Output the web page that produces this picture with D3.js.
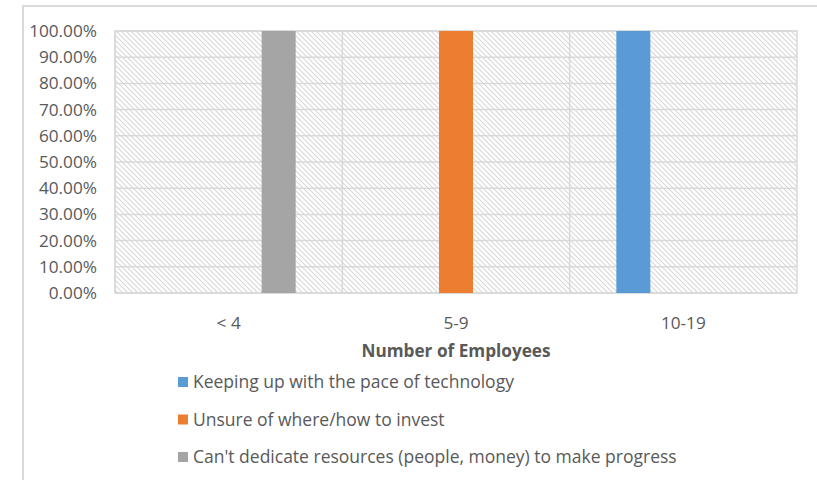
<!DOCTYPE html>
<html><head><meta charset="utf-8">
<script src="https://cdn.jsdelivr.net/npm/d3@7"></script>
<style>body{margin:0;background:#fff;} text{font-family:"Open Sans",sans-serif;}</style>
</head><body>
<svg id="c" width="817" height="480"></svg>
<script>
const categories = ["< 4", "5-9", "10-19"];
const seriesNames = ["Keeping up with the pace of technology", "Unsure of where/how to invest", "Can't dedicate resources (people, money) to make progress"];
const keepingUp = [0, 0, 1];
const unsure = [0, 1, 0];
const cantDedicate = [1, 0, 0];
const seriesColors = ["#5b9bd5", "#ed7d31", "#a5a5a5"];
const yTicks = [0, 0.1, 0.2, 0.3, 0.4, 0.5, 0.6, 0.7, 0.8, 0.9, 1.0];
const xTitle = "Number of Employees";

const series = [keepingUp, unsure, cantDedicate];
const svg = d3.select("#c");
const m = {l: 115, r: 797, t: 31, b: 293};
const fs = 17.2;
const lfs = 17.5;

// outer border
svg.append("rect").attr("x", 23).attr("y", 6).attr("width", 820).attr("height", 500)
  .attr("fill", "#fff").attr("stroke", "#d9d9d9").attr("stroke-width", 2);

const defs = svg.append("defs");
const pat = defs.append("pattern").attr("id", "hatch").attr("patternUnits", "userSpaceOnUse")
  .attr("width", 5).attr("height", 5);
pat.append("rect").attr("width", 5).attr("height", 5).attr("fill", "#fff");
pat.append("path").attr("d", "M-1,-1 L6,6 M-1,4 L1,6 M4,-1 L6,1").attr("stroke", "#d9d9d9").attr("stroke-width", 1.2);

const x = d3.scaleBand().domain(categories).range([m.l, m.r]).paddingInner(0).paddingOuter(0);
const xs = d3.scaleBand().domain(d3.range(series.length)).range([-67, 67]).paddingInner(0.32).paddingOuter(0);
const y = d3.scaleLinear().domain([0, 1]).range([m.b, m.t]);

svg.append("rect").attr("x", m.l).attr("y", m.t).attr("width", m.r - m.l).attr("height", m.b - m.t)
  .attr("fill", "url(#hatch)");

// gridlines
svg.append("g").selectAll("line").data(yTicks).join("line")
  .attr("x1", m.l).attr("x2", m.r).attr("y1", d => y(d)).attr("y2", d => y(d))
  .attr("stroke", "#d9d9d9").attr("stroke-width", 1.5);
// vertical category separators
svg.append("g").selectAll("line").data(categories).join("line")
  .attr("x1", d => x(d)).attr("x2", d => x(d)).attr("y1", m.t).attr("y2", m.b)
  .attr("stroke", "#d9d9d9").attr("stroke-width", 1.5);
svg.append("rect").attr("x", m.l).attr("y", m.t).attr("width", m.r - m.l).attr("height", m.b - m.t)
  .attr("fill", "none").attr("stroke", "#d9d9d9").attr("stroke-width", 1.5);

// bars
series.forEach((vals, si) => {
  svg.append("g").selectAll("rect").data(vals.map((v, i) => ({c: categories[i], v}))).join("rect")
    .attr("x", d => x(d.c) + x.bandwidth() / 2 + xs(si))
    .attr("width", xs.bandwidth())
    .attr("y", d => y(d.v))
    .attr("height", d => y(0) - y(d.v))
    .attr("fill", seriesColors[si]);
});

// y axis labels
const fmt = d3.format(".2%");
svg.append("g").selectAll("text").data(yTicks).join("text")
  .attr("x", 97).attr("y", d => y(d)).attr("dy", "0.35em").attr("text-anchor", "end")
  .attr("font-size", fs).attr("fill", "#595959").text(d => fmt(d));

// x labels
svg.append("g").selectAll("text").data(categories).join("text")
  .attr("x", d => x(d) + x.bandwidth() / 2).attr("y", 323).attr("dy", "0.35em").attr("text-anchor", "middle")
  .attr("font-size", fs).attr("fill", "#595959").text(d => d);

svg.append("text").attr("x", (m.l + m.r) / 2).attr("y", 351).attr("dy", "0.35em").attr("text-anchor", "middle")
  .attr("font-size", fs).attr("font-weight", "bold").attr("fill", "#595959").text(xTitle);

// legend
const lg = svg.append("g").selectAll("g").data(seriesNames).join("g")
  .attr("transform", (d, i) => `translate(178, ${382 + i * 37.5})`);
lg.append("rect").attr("x", 0).attr("y", -5).attr("width", 10).attr("height", 10)
  .attr("fill", (d, i) => seriesColors[i]);
lg.append("text").attr("x", 15).attr("y", 0).attr("dy", "0.35em").attr("font-size", lfs)
  .attr("fill", "#595959").text(d => d);
</script>
</body></html>
